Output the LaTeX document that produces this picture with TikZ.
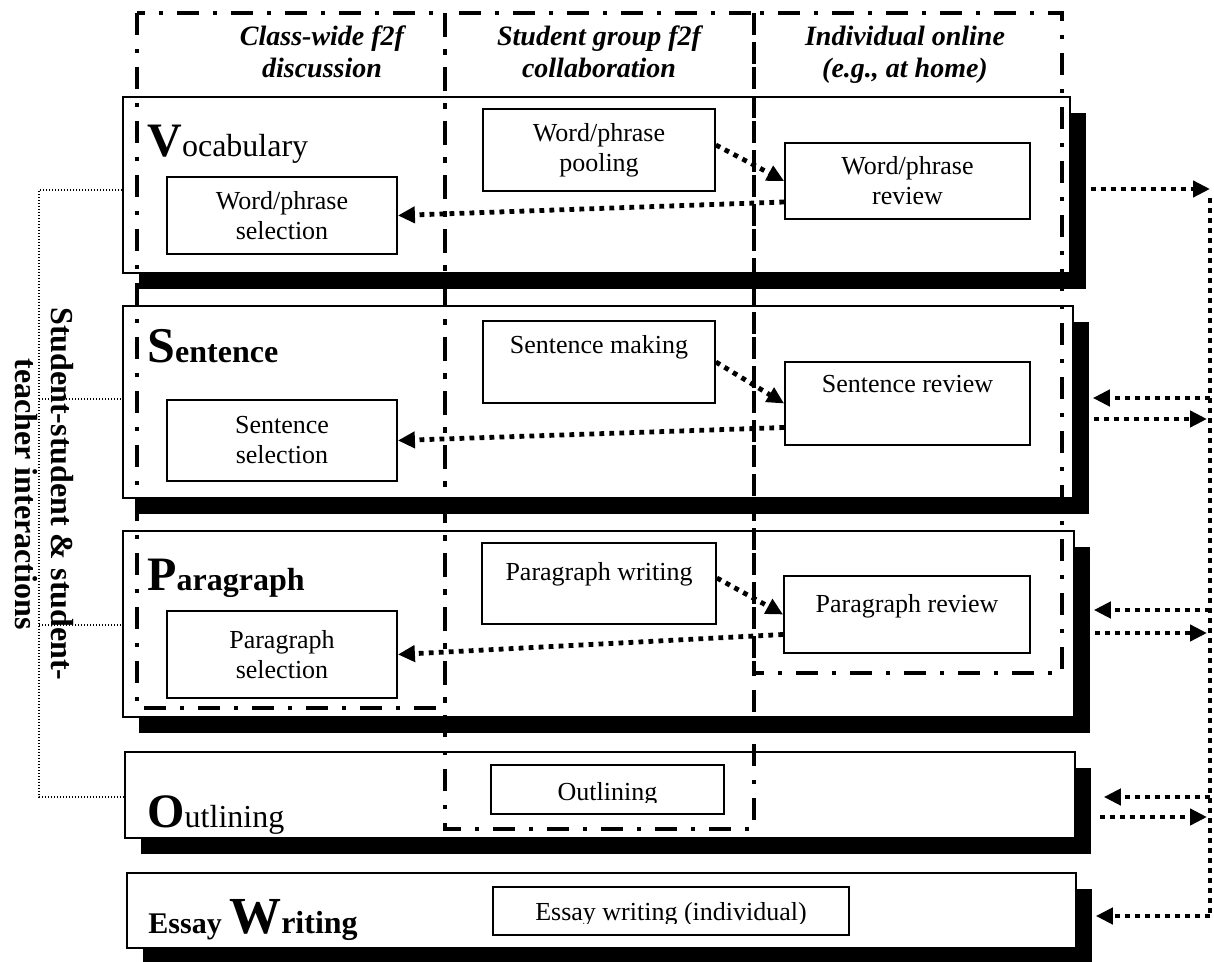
\documentclass[tikz,border=0pt]{standalone}
\usepackage{fontspec}
\setmainfont{Liberation Serif}
\usetikzlibrary{arrows.meta,shadows}
\begin{document}
\begin{tikzpicture}[x=0.5pt,y=-0.5pt,
  rowbox/.style={draw, line width=0.8pt, fill=white, inner sep=0pt,
    drop shadow={shadow xshift=8pt, shadow yshift=-8pt, opacity=1, fill=black}},
  inbox/.style={draw, line width=0.9pt, fill=white, inner sep=0pt, align=center,
    font=\fontsize{13}{15}\selectfont},
  intext/.style={anchor=base, inner sep=0pt, font=\fontsize{13}{15}\selectfont},
  colbox/.style={line width=2.3pt, dash pattern=on 11pt off 7pt on 2pt off 7pt},
  head/.style={align=center, anchor=base, inner sep=0pt,
    font=\fontsize{14}{16}\selectfont\bfseries\itshape},
  biglab/.style={anchor=base west, inner sep=0pt},
  darr/.style={line width=2.4pt, dash pattern=on 2.4pt off 2.6pt,
    -{Triangle[length=8.5pt,width=8pt]}},
  dline/.style={line width=2.4pt, dash pattern=on 2.4pt off 2.6pt},
  fine/.style={line width=0.6pt, dash pattern=on 0.7pt off 0.8pt},
]
\fill[white] (0,0) rectangle (1214,962);
\useasboundingbox (0,0) rectangle (1214,962);

% row boxes
\node[rowbox, minimum width=473.5pt, minimum height=88pt] (vrow) at (596.5,185) {};
\node[rowbox, minimum width=475pt, minimum height=96pt] (srow) at (598,402) {};
\node[rowbox, minimum width=475.5pt, minimum height=93pt] (prow) at (598.5,624) {};
\node[rowbox, minimum width=475pt, minimum height=43pt] (orow) at (600,795) {};
\node[rowbox, minimum width=474.5pt, minimum height=37.5pt] (erow) at (601.5,910.5) {};

% row labels
\node[biglab] (vlab) at (147,157) {\fontsize{24}{24}\selectfont\bfseries V\fontsize{16}{16}\selectfont\mdseries ocabulary};
\node[biglab] (slab) at (147,363) {\fontsize{25}{25}\selectfont\bfseries S\fontsize{16}{16}\selectfont entence};
\node[biglab] (plab) at (147,590) {\fontsize{24}{24}\selectfont\bfseries P\fontsize{16}{16}\selectfont aragraph};
\node[biglab] (olab) at (147,827) {\fontsize{24}{24}\selectfont\bfseries O\fontsize{16}{16}\selectfont\mdseries utlining};
\node[biglab] (elab) at (148,933) {\bfseries\fontsize{15}{15}\selectfont Essay \fontsize{26}{26}\selectfont W\fontsize{16}{16}\selectfont riting};

% inner boxes
\node[inbox, minimum width=115pt, minimum height=38.5pt] (wsel) at (282,215.5) {Word/phrase\\selection};
\node[inbox, minimum width=116pt, minimum height=41pt] (wpool) at (599,150) {Word/phrase\\pooling};
\node[inbox, minimum width=122.5pt, minimum height=38pt] (wrev) at (907.5,181) {Word/phrase\\review};

\node[inbox, minimum width=115pt, minimum height=40.5pt] (ssel) at (282,440.5) {Sentence\\selection};
\node[inbox, minimum width=116pt, minimum height=41pt] (smak) at (599,362) {};
\node[intext] (smakt) at (599,354) {Sentence making};
\node[inbox, minimum width=122.5pt, minimum height=41.5pt] (srev) at (907.5,403.5) {};
\node[intext] (srevt) at (907.5,393) {Sentence review};

\node[inbox, minimum width=115pt, minimum height=43.5pt] (psel) at (282,654.5) {Paragraph\\selection};
\node[inbox, minimum width=117pt, minimum height=40.5pt] (pwri) at (599,583.5) {};
\node[intext] (pwrit) at (599,580) {Paragraph writing};
\node[inbox, minimum width=123pt, minimum height=38.5pt] (prev) at (907,614.5) {};
\node[intext] (prevt) at (907,612) {Paragraph review};

\node[inbox, minimum width=116.5pt, minimum height=24.5pt] (oout) at (607.5,789.5) {};
\begin{scope}
  \clip (491,765) rectangle (724,802);
  \node[intext] (ooutt) at (607.5,800) {Outlining};
\end{scope}
\node[inbox, minimum width=178pt, minimum height=24pt] (eess) at (671,911) {};
\begin{scope}
  \clip (493,887) rectangle (849,923);
  \node[intext] (eesst) at (671,920) {Essay writing (individual)};
\end{scope}

% column frames
\draw[colbox] (137,13) rectangle (445,708);
\draw[colbox] (445,13) rectangle (754,829);
\draw[colbox] (754,13) rectangle (1062,673);

% headers
\node[head] (h1) at (322,78) {Class-wide f2f\\discussion};
\node[head] (h2) at (599,78) {Student group f2f\\collaboration};
\node[head] (h3) at (905,78) {Individual online\\(e.g., at home)};

% inner arrows
\draw[darr] ([yshift=2.5pt]wpool.east) -- (wrev.west);
\draw[darr] ([yshift=-10.5pt]wrev.west) -- (wsel.east);
\draw[darr] (smak.east) -- (srev.west);
\draw[darr] ([yshift=-12pt]srev.west) -- (ssel.east);
\draw[darr] ([yshift=2.75pt]pwri.east) -- (prev.west);
\draw[darr] ([yshift=-10pt]prev.west) -- (psel.east);

% right side connectors
\coordinate (rv1) at (1210,189);
\coordinate (rv5) at (1210,916);
\coordinate (sL) at (1210,398);
\coordinate (sR) at (1207,419);
\coordinate (pL) at (1210,610);
\coordinate (pR) at (1207,633);
\coordinate (oL) at (1210,797);
\coordinate (oR) at (1207,817);
\draw[dline] (1210,198) -- (rv5);
\draw[darr] (vrow.east |- rv1) -- (rv1);
\draw[darr] (sL) -- ([xshift=9.5pt]sL -| srow.east);
\draw[darr] (sR -| srow.east) -- (sR);
\draw[darr] (pL) -- ([xshift=9.5pt]pL -| prow.east);
\draw[darr] (pR -| prow.east) -- (pR);
\draw[darr] (oL) -- ([xshift=14pt]oL -| orow.east);
\draw[darr] ([xshift=12pt]oR -| orow.east) -- (oR);
\draw[darr] (rv5) -- ([xshift=9.5pt]rv5 -| erow.east);

% left bracket
\coordinate (b1) at (39,190);
\coordinate (b2) at (39,399);
\coordinate (b3) at (39,625);
\coordinate (b4) at (39,797);
\draw[fine] (b1 -| vrow.west) -- (b1) -- (b4) -- (b4 -| orow.west);
\draw[fine] (b2) -- (b2 -| srow.west);
\draw[fine] (b3) -- (b3 -| prow.west);
\node[rotate=-90, align=center, inner sep=0pt,
  font=\fontsize{16}{18}\selectfont\bfseries] (side) at (44,494)
  {Student-student \& student-\\teacher interactions};
\end{tikzpicture}
\end{document}
